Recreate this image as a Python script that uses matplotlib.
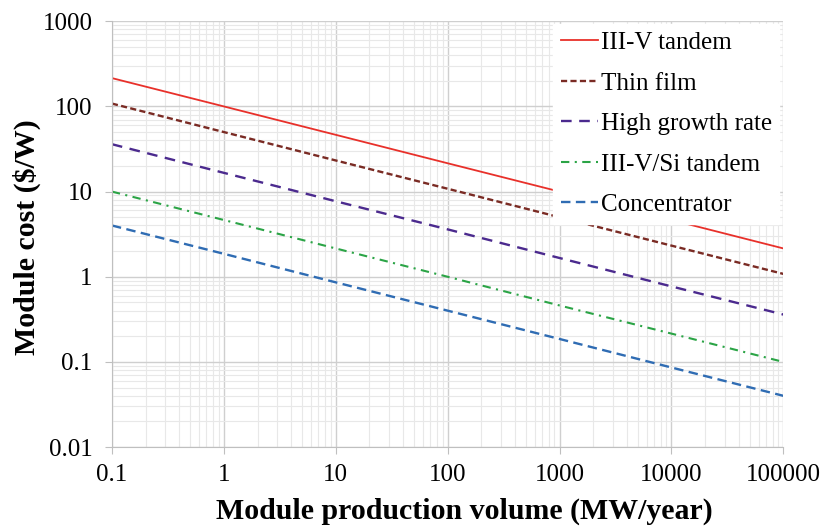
import matplotlib.pyplot as plt
from matplotlib.ticker import LogLocator, FixedLocator, NullFormatter

# Datos (valores en cada década)
volumen = [0.1, 1, 10, 100, 1000, 10000, 100000]
tandem_35 = [215, 100, 46.4, 21.5, 10.0, 4.64, 2.15]
pelicula_delgada = [108, 50, 23.2, 10.8, 5.0, 2.32, 1.08]
alto_crecimiento = [36, 16.6, 7.7, 3.6, 1.66, 0.77, 0.36]
tandem_si = [10, 4.64, 2.15, 1.0, 0.46, 0.215, 0.1]
concentrador = [4.0, 1.86, 0.86, 0.4, 0.186, 0.086, 0.04]

etiquetas_x = ["0.1", "1", "10", "100", "1000", "10000", "100000"]
etiquetas_y = ["0.01", "0.1", "1", "10", "100", "1000"]
valores_y = [0.01, 0.1, 1, 10, 100, 1000]

plt.rcParams['font.family'] = ['Liberation Serif', 'DejaVu Serif']

fig = plt.figure(figsize=(8.29, 5.31), dpi=100)
ax = fig.add_axes([0.135, 0.158, 0.810, 0.802])

ax.plot(volumen, tandem_35, color='#E8302A', lw=1.3, label='III-V tandem')
ax.plot(volumen, pelicula_delgada, color='#7A2B24', lw=1.7, ls=(0, (2.6, 1.4)), label='Thin film')
ax.plot(volumen, alto_crecimiento, color='#4B2A8E', lw=1.7, ls=(0, (4.5, 3.2)), label='High growth rate')
ax.plot(volumen, tandem_si, color='#2BA446', lw=1.5, ls=(0, (4, 2.6, 1, 2.6)), label='III-V/Si tandem')
ax.plot(volumen, concentrador, color='#2F6CB3', lw=1.7, ls=(0, (4, 2.3)), label='Concentrator')

ax.set_xscale('log')
ax.set_yscale('log')
ax.set_xlim(0.1, 100000)
ax.set_ylim(0.01, 1000)

ax.xaxis.set_major_locator(FixedLocator(volumen))
ax.set_xticklabels(etiquetas_x)
ax.yaxis.set_major_locator(FixedLocator(valores_y))
ax.set_yticklabels(etiquetas_y)
ax.xaxis.set_minor_locator(LogLocator(base=10, subs=range(2, 10), numticks=20))
ax.yaxis.set_minor_locator(LogLocator(base=10, subs=range(2, 10), numticks=20))
ax.xaxis.set_minor_formatter(NullFormatter())
ax.yaxis.set_minor_formatter(NullFormatter())

ax.grid(True, which='major', color='#CFCFCF', lw=1.0)
ax.grid(True, which='minor', color='#E8E8E8', lw=0.8)
ax.set_axisbelow(True)

for lado in ['top', 'right']:
    ax.spines[lado].set_visible(False)
for lado in ['left', 'bottom']:
    ax.spines[lado].set_color('#BFBFBF')
ax.tick_params(which='major', length=5, color='#BFBFBF', labelsize=18, labelcolor='black')
ax.tick_params(axis='x', pad=7)
ax.tick_params(axis='y', pad=9)
ax.tick_params(which='minor', length=0)

ax.set_xlabel('Module production volume (MW/year)', fontsize=21.5, fontweight='bold')
ax.set_ylabel('Module cost ($/W)', fontsize=21.5, fontweight='bold')
ax.xaxis.set_label_coords(0.525, -0.118)
ax.yaxis.set_label_coords(-0.106, 0.494)

leg = ax.legend(loc='upper right', bbox_to_anchor=(0.994, 0.993), fontsize=18, frameon=True,
                fancybox=False, edgecolor='white', framealpha=1, handlelength=1.5,
                handletextpad=0.1, labelspacing=0.72, borderaxespad=0.0, borderpad=0.3)

fig.savefig('out.png', dpi=100)
